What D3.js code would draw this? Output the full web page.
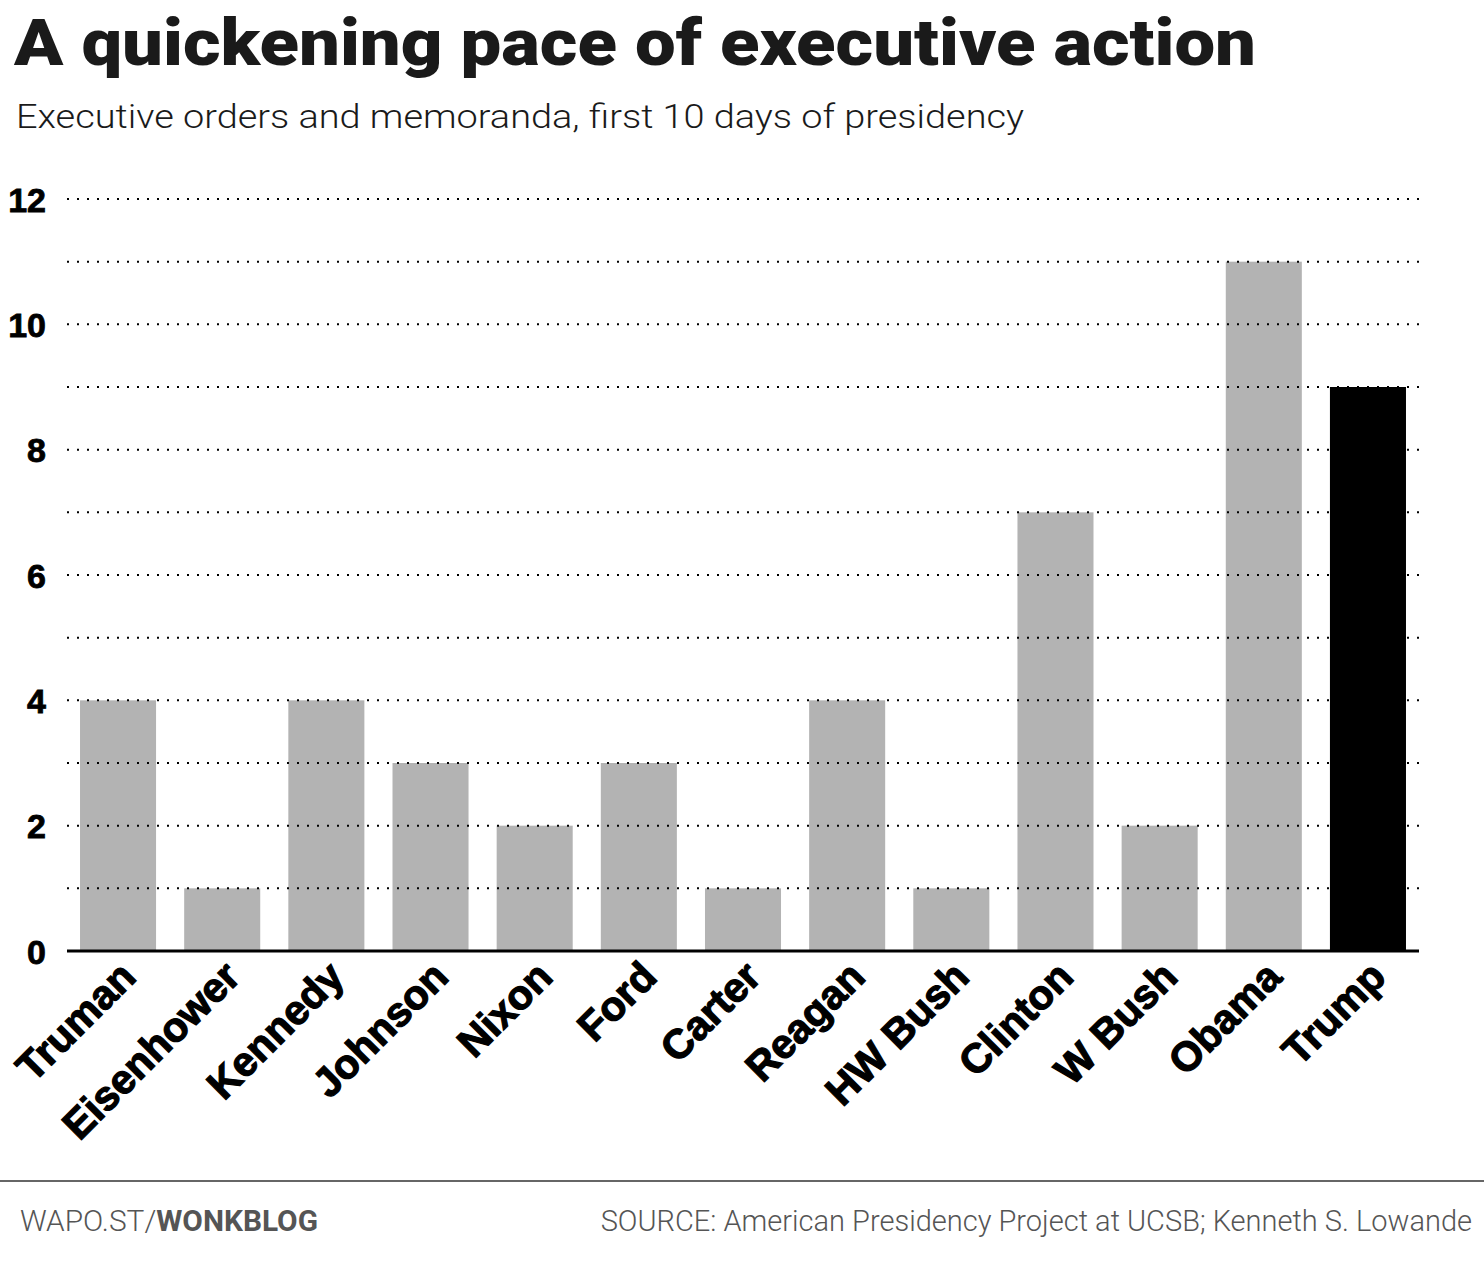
<!DOCTYPE html>
<html><head><meta charset="utf-8">
<script src="https://cdn.jsdelivr.net/npm/d3@7"></script>
<style>
html,body{margin:0;padding:0;background:#fff;}
svg{display:block;}
</style></head>
<body>
<script>
const presidents = ["Truman","Eisenhower","Kennedy","Johnson","Nixon","Ford","Carter","Reagan","HW Bush","Clinton","W Bush","Obama","Trump"];
const actions = [4,1,4,3,2,3,1,4,1,7,2,11,9];
const highlight = ["Trump"];
const yTickLabels = [0,2,4,6,8,10,12];
const gridValues = [1,2,3,4,5,6,7,8,9,10,11,12];

const W = 1484, H = 1273;
const svg = d3.select("body").append("svg").attr("width", W).attr("height", H);

svg.append("text").attr("x", 14).attr("y", 65)
  .attr("font-family", "Roboto").attr("font-weight", 900).attr("font-size", 64)
  .attr("fill", "#1a1a1a").attr("textLength", 1242).attr("lengthAdjust", "spacingAndGlyphs")
  .text("A quickening pace of executive action");

svg.append("text").attr("x", 16).attr("y", 128)
  .attr("font-family", "Roboto").attr("font-weight", 300).attr("font-size", 34)
  .attr("fill", "#1a1a1a").attr("textLength", 1008).attr("lengthAdjust", "spacingAndGlyphs")
  .text("Executive orders and memoranda, first 10 days of presidency");

const x = d3.scaleBand().domain(presidents).range([67, 1419]).paddingInner(0.27).paddingOuter(0.125);
const y = d3.scaleLinear().domain([0, 12]).range([951, 199]);

// bars
svg.append("g").selectAll("rect").data(presidents).join("rect")
  .attr("x", d => x(d)).attr("width", x.bandwidth())
  .attr("y", (d,i) => y(actions[i])).attr("height", (d,i) => y(0) - y(actions[i]))
  .attr("fill", d => highlight.includes(d) ? "#000" : "#b3b3b3");

// grid
svg.append("g").selectAll("line").data(gridValues).join("line")
  .attr("x1", 67).attr("x2", 1419)
  .attr("y1", d => y(d)).attr("y2", d => y(d))
  .attr("stroke", "#000").attr("stroke-width", 2).attr("stroke-dasharray", "2,8");

// y axis labels
const yAxis = d3.axisLeft(y).tickValues(yTickLabels).tickSize(0).tickPadding(0).tickFormat(d3.format("d"));
const gy = svg.append("g").attr("transform", "translate(46,0)").call(yAxis);
gy.select(".domain").remove();
gy.selectAll("text").attr("font-family", "Liberation Sans").attr("font-weight", 700)
  .attr("font-size", 34).attr("fill", "#000").attr("stroke", "#000").attr("stroke-width", 0.8)
  .attr("dy", "0.36em");

// baseline
svg.append("line").attr("x1", 67).attr("x2", 1419).attr("y1", y(0)).attr("y2", y(0))
  .attr("stroke", "#000").attr("stroke-width", 3);

// x labels
const xAxis = d3.axisBottom(x).tickSize(0).tickPadding(0);
const gx = svg.append("g").attr("transform", `translate(0,${y(0)})`).call(xAxis);
gx.select(".domain").remove();
gx.selectAll("text")
  .attr("font-family", "Liberation Sans").attr("font-weight", 700).attr("font-size", 41)
  .attr("fill", "#000").attr("stroke", "#000").attr("stroke-width", 1.2)
  .attr("text-anchor", "end").attr("dy", 0).attr("y", 0)
  .attr("transform", "translate(20,28) rotate(-45)");

// footer
svg.append("line").attr("x1", 0).attr("x2", W).attr("y1", 1181).attr("y2", 1181)
  .attr("stroke", "#666").attr("stroke-width", 2);
const f = svg.append("text").attr("x", 20).attr("y", 1231)
  .attr("font-family", "Roboto").attr("font-size", 30).attr("fill", "#555")
  .attr("textLength", 298).attr("lengthAdjust", "spacingAndGlyphs");
f.append("tspan").attr("font-weight", 300).text("WAPO.ST/");
f.append("tspan").attr("font-weight", 700).text("WONKBLOG");
svg.append("text").attr("x", 1472).attr("y", 1231).attr("text-anchor", "end")
  .attr("font-family", "Roboto").attr("font-weight", 300).attr("font-size", 29).attr("fill", "#555")
  .text("SOURCE: American Presidency Project at UCSB; Kenneth S. Lowande");
</script>
</body></html>
